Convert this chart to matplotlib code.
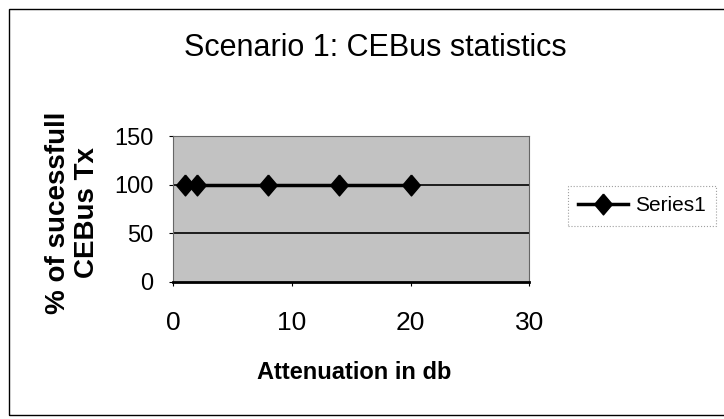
import matplotlib.pyplot as plt
from matplotlib.patches import Rectangle

# Datos
atenuacion = [1, 2, 8, 14, 20]
exito = [100, 100, 100, 100, 100]
xticks = [0, 10, 20, 30]
yticks = [0, 50, 100, 150]

plt.rcParams['font.family'] = ['Liberation Sans', 'DejaVu Sans']

fig = plt.figure(figsize=(7.24, 4.19), dpi=100)
ax = fig.add_axes([0.239, 0.327, 0.492, 0.348])

# marco exterior del grafico
fig.patches.append(Rectangle((9 / 724, 4 / 419), 1.0, 406 / 419, transform=fig.transFigure,
                             fill=False, edgecolor='black', linewidth=1.0))

# rombo algo mas alto que ancho, como en el original
rombo = [(0, 1), (0.85, 0), (0, -1), (-0.85, 0), (0, 1)]

ax.set_facecolor('#c2c2c2')
ax.plot(atenuacion, exito, color='black', linewidth=2.5, marker=rombo,
        markersize=15, label='Series1', zorder=3)
for y in [50, 100]:
    ax.axhline(y, color='black', linewidth=1.2, zorder=2)

ax.set_xlim(0, 30)
ax.set_ylim(0, 150)
ax.set_xticks(xticks)
ax.set_yticks(yticks)
ax.tick_params(axis='both', labelsize=18, length=3, width=0.8)
ax.tick_params(axis='x', pad=18, labelsize=19)
ax.tick_params(axis='y', pad=11, labelsize=17)
for s in ax.spines.values():
    s.set_color('#666666')
    s.set_linewidth(0.8)
ax.spines['bottom'].set_color('black')
ax.spines['bottom'].set_linewidth(2)

fig.text(0.489, 0.11, 'Attenuation in db', fontsize=17, fontweight='bold',
         ha='center', va='center')
fig.text(0.1, 0.492, '% of sucessfull\nCEBus Tx', fontsize=20, fontweight='bold',
         rotation=90, ha='center', va='center', linespacing=1.15, multialignment='center')
fig.text(0.518, 0.885, 'Scenario 1: CEBus statistics', fontsize=22,
         ha='center', va='center')

leg = ax.legend(loc='upper left', bbox_to_anchor=(568 / 724, 1 - 186 / 419),
                bbox_transform=fig.transFigure, fontsize=15, frameon=True,
                fancybox=False, handlelength=2.4, handletextpad=0.3,
                borderpad=0.5, borderaxespad=0)
leg.get_frame().set_edgecolor('#888888')
leg.get_frame().set_linewidth(0.8)
leg.get_frame().set_linestyle(':')

fig.savefig('out.png', dpi=100)
